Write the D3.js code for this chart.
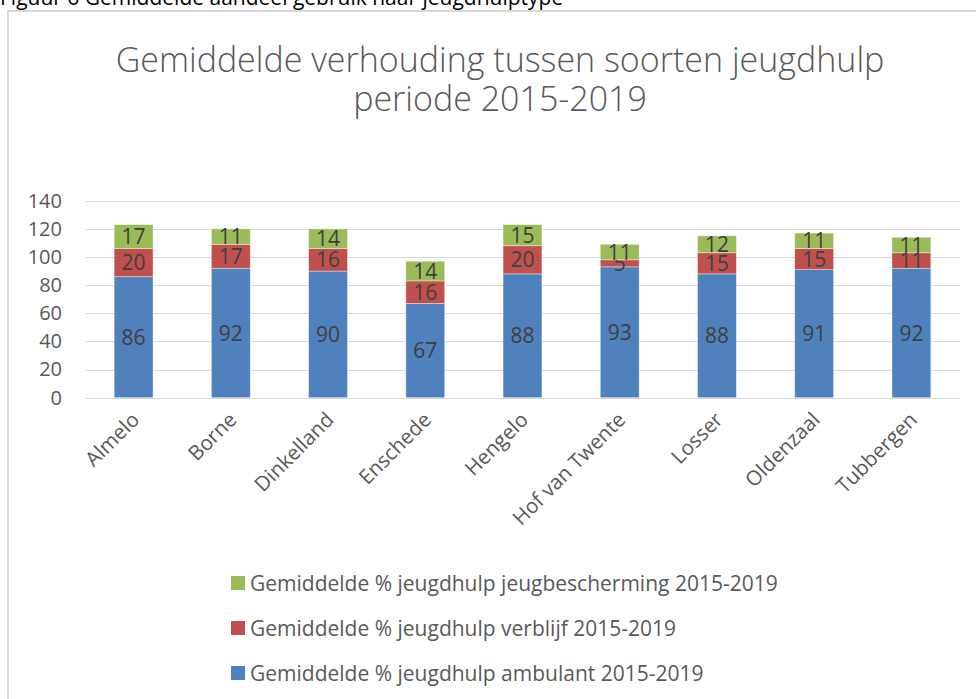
<!DOCTYPE html>
<html>
<head>
<meta charset="utf-8">
<script src="https://cdn.jsdelivr.net/npm/d3@7"></script>
<style>
  body { margin: 0; background: #fff; }
  svg { display: block; font-family: "Open Sans", sans-serif; }
</style>
</head>
<body>
<script>
// data
var gemeenten = ["Almelo", "Borne", "Dinkelland", "Enschede", "Hengelo", "Hof van Twente", "Losser", "Oldenzaal", "Tubbergen"];
var ambulant = [86, 92, 90, 67, 88, 93, 88, 91, 92];
var verblijf = [20, 17, 16, 16, 20, 5, 15, 15, 11];
var jeugdbescherming = [17, 11, 14, 14, 15, 11, 12, 11, 11];
var yTicks = [0, 20, 40, 60, 80, 100, 120, 140];
var seriesNames = [
  "Gemiddelde % jeugdhulp ambulant 2015-2019",
  "Gemiddelde % jeugdhulp verblijf 2015-2019",
  "Gemiddelde % jeugdhulp jeugbescherming 2015-2019"
];

var w = 976, h = 699;
var colors = ["#4f81bd", "#c0504d", "#9bbb59"];

var svg = d3.select("body").append("svg")
  .attr("width", w)
  .attr("height", h);

// caption above the chart, mostly cut off
svg.append("text")
  .attr("x", 0)
  .attr("y", 5)
  .attr("font-size", 21)
  .attr("fill", "#000")
  .text("Figuur 6 Gemiddelde aandeel gebruik naar jeugdhulptype");

// chart frame
svg.append("rect")
  .attr("x", 8)
  .attr("y", 11)
  .attr("width", w + 20)
  .attr("height", h + 20)
  .attr("fill", "#fff")
  .attr("stroke", "#d9d9d9")
  .attr("stroke-width", 2);

// title
var title = svg.append("text")
  .attr("text-anchor", "middle")
  .attr("font-size", 34)
  .attr("font-weight", 300)
  .attr("fill", "#595959");
title.append("tspan").attr("x", 500).attr("y", 72).text("Gemiddelde verhouding tussen soorten jeugdhulp");
title.append("tspan").attr("x", 500).attr("y", 111).text("periode 2015-2019");

// table for the stack
var table = gemeenten.map(function(g, i) {
  return { gemeente: g, s0: ambulant[i], s1: verblijf[i], s2: jeugdbescherming[i] };
});
var stacked = d3.stack().keys(["s0", "s1", "s2"])(table);

var x = d3.scaleBand()
  .domain(gemeenten)
  .range([85, 960])
  .paddingInner(0.6)
  .paddingOuter(0.3);
var y = d3.scaleLinear()
  .domain([0, 140])
  .range([397.7, 200.7]);

// gridlines
svg.append("g")
  .selectAll("line")
  .data(yTicks)
  .enter()
  .append("line")
  .attr("x1", 85)
  .attr("x2", 960)
  .attr("y1", function(d) { return Math.round(y(d)) + 0.5; })
  .attr("y2", function(d) { return Math.round(y(d)) + 0.5; })
  .attr("stroke", "#d9d9d9")
  .attr("stroke-width", 1);

// y axis labels
var yAxis = svg.append("g")
  .attr("transform", "translate(85,0)")
  .call(d3.axisLeft(y).tickValues(yTicks).tickSize(0).tickPadding(23));
yAxis.select(".domain").remove();
yAxis.selectAll("text")
  .attr("font-size", 20)
  .attr("font-family", "Open Sans, sans-serif")
  .attr("fill", "#595959");

// bars
var layers = svg.append("g")
  .selectAll("g")
  .data(stacked)
  .enter()
  .append("g")
  .attr("fill", function(d, i) { return colors[i]; });

layers.selectAll("rect")
  .data(function(d) { return d; })
  .enter()
  .append("rect")
  .attr("x", function(d) { return x(d.data.gemeente); })
  .attr("y", function(d) { return y(d[1]); })
  .attr("width", x.bandwidth())
  .attr("height", function(d) { return y(d[0]) - y(d[1]); })
  .attr("stroke", "#fff")
  .attr("stroke-opacity", 0.5)
  .attr("stroke-width", 0.75);

// data labels
layers.selectAll("text")
  .data(function(d) { return d; })
  .enter()
  .append("text")
  .attr("x", function(d) { return x(d.data.gemeente) + x.bandwidth() / 2; })
  .attr("y", function(d) { return y((d[0] + d[1]) / 2); })
  .attr("dy", "0.36em")
  .attr("text-anchor", "middle")
  .attr("font-size", 21)
  .attr("fill", "#404040")
  .text(function(d) { return d[1] - d[0]; });

// x axis labels, rotated
var xAxis = svg.append("g")
  .attr("transform", "translate(0,398)")
  .call(d3.axisBottom(x).tickSize(0).tickPadding(0));
xAxis.select(".domain").remove();
xAxis.selectAll("text")
  .attr("font-size", 20.5)
  .attr("font-family", "Open Sans, sans-serif")
  .attr("fill", "#595959")
  .attr("text-anchor", "end")
  .attr("dy", 0)
  .attr("y", 0)
  .attr("transform", "translate(7,23) rotate(-45)");

// legend (reverse order, top to bottom)
var legendY = [583, 628, 673];
var legend = svg.append("g")
  .selectAll("g")
  .data([2, 1, 0])
  .enter()
  .append("g")
  .attr("transform", function(d, i) { return "translate(231," + legendY[i] + ")"; });
legend.append("rect")
  .attr("x", 0)
  .attr("y", -7)
  .attr("width", 14)
  .attr("height", 14)
  .attr("fill", function(d) { return colors[d]; });
legend.append("text")
  .attr("x", 19)
  .attr("y", 0)
  .attr("dy", "0.36em")
  .attr("font-size", 21)
  .attr("fill", "#595959")
  .text(function(d) { return seriesNames[d]; });
</script>
</body>
</html>
